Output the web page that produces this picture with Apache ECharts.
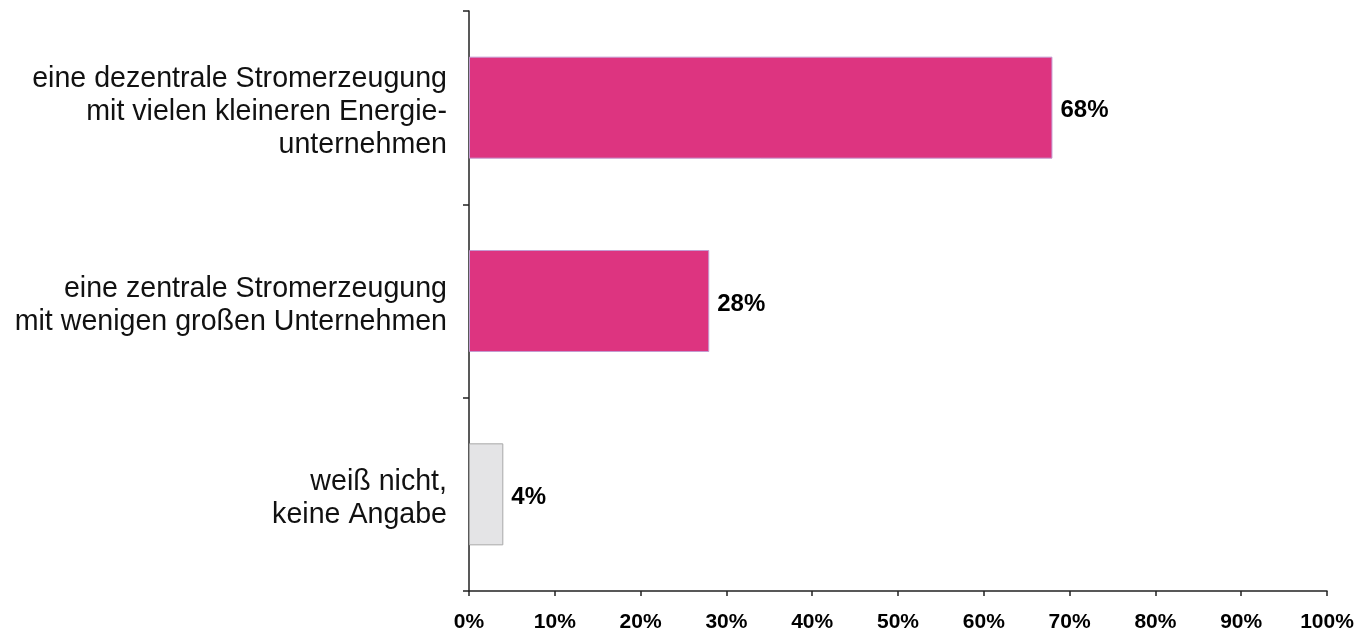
<!DOCTYPE html>
<html>
<head>
<meta charset="utf-8">
<script src="https://cdn.jsdelivr.net/npm/echarts@6/dist/echarts.min.js"></script>
<style>
html,body{margin:0;padding:0;background:#fff;}
#chart{width:1357px;height:635px;}
</style>
</head>
<body>
<div id="chart"></div>
<script>
const categories = [
  "eine dezentrale Stromerzeugung\nmit vielen kleineren Energie-\nunternehmen",
  "eine zentrale Stromerzeugung\nmit wenigen großen Unternehmen",
  "weiß nicht,\nkeine Angabe"
];
const values = [68, 28, 4];
const xTickValues = [0, 10, 20, 30, 40, 50, 60, 70, 80, 90, 100];

const barFill = ['#dd3480', '#dd3480', '#e4e4e6'];
const barBorder = ['#c49ad0', '#c49ad0', '#a8a8a8'];
const FONT = 'Arial, "Liberation Sans", sans-serif';

const chart = echarts.init(document.getElementById('chart'));
chart.setOption({
  backgroundColor: '#ffffff',
  animation: false,
  grid: { left: 469, right: 30, top: 11, bottom: 44, containLabel: false },
  xAxis: {
    type: 'value',
    min: xTickValues[0],
    max: xTickValues[xTickValues.length - 1],
    interval: 10,
    axisLine: { show: true, lineStyle: { color: '#222', width: 1.5 } },
    axisTick: { show: true, length: 5, lineStyle: { color: '#222', width: 1.5 } },
    splitLine: { show: false },
    axisLabel: {
      formatter: '{value}%',
      color: '#000',
      fontFamily: FONT,
      fontWeight: 'bold',
      fontSize: 21,
      margin: 21
    }
  },
  yAxis: {
    type: 'category',
    inverse: true,
    data: categories,
    axisLine: { show: true, lineStyle: { color: '#222', width: 1.5 } },
    axisTick: { show: true, length: 6, lineStyle: { color: '#222', width: 1.5 } },
    axisLabel: {
      color: '#111',
      fontFamily: FONT,
      fontSize: 28.6,
      lineHeight: 33,
      margin: 22,
      align: 'right',
      formatter: function (v) {
        return '{s| }\n' + v.split('\n').map(function (l) { return '{t|' + l + '}'; }).join('\n');
      },
      rich: {
        s: { fontSize: 2, lineHeight: 9 },
        t: { fontSize: 28.6, lineHeight: 33, fontFamily: FONT, color: '#111' }
      }
    }
  },
  series: [{
    type: 'bar',
    barWidth: 102,
    data: values.map((v, i) => ({
      value: v,
      itemStyle: { color: barFill[i], borderColor: barBorder[i], borderWidth: 1 }
    })),
    label: {
      show: true,
      position: 'right',
      distance: 8,
      offset: [0, 3],
      formatter: '{c}%',
      color: '#000',
      fontFamily: FONT,
      fontWeight: 'bold',
      fontSize: 24
    }
  }]
});
</script>
</body>
</html>
